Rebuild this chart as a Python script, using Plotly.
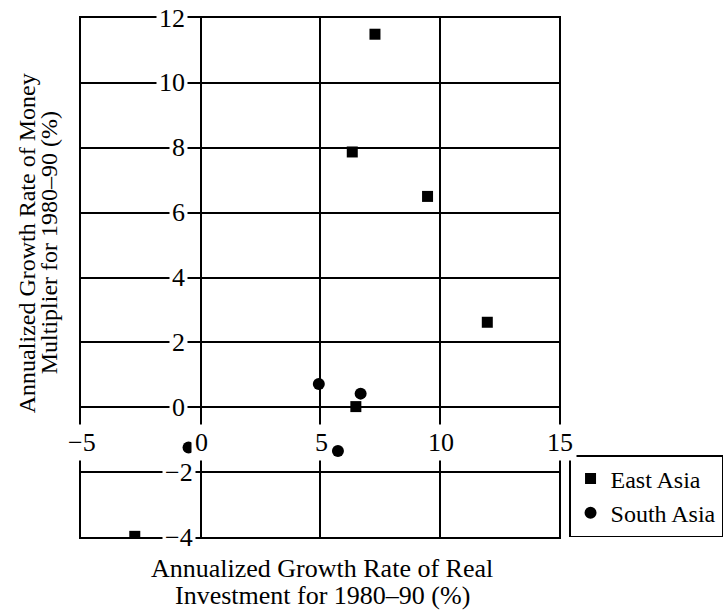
import plotly.graph_objects as go

# Annualized growth rates, 1980-90 (%)
east_x = [7.3, 6.35, 9.5, 12.0, 6.5, -2.75]
east_y = [11.5, 7.87, 6.5, 2.62, 0.02, -3.98]
south_x = [4.95, 6.7, -0.5, 5.75]
south_y = [0.72, 0.42, -1.24, -1.35]

x_ticks = [-5, 0, 5, 10, 15]
y_ticks = [12, 10, 8, 6, 4, 2, 0, -2, -4]

FONT = "Liberation Serif"
BLACK = "black"


def tick_text(v):
    return ("\u2212" + str(-v)) if v < 0 else str(v)


fig = go.Figure()
fig.add_trace(go.Scatter(
    x=east_x, y=east_y, mode="markers", name="East Asia",
    marker=dict(symbol="square", size=11, color=BLACK),
))
fig.add_trace(go.Scatter(
    x=south_x, y=south_y, mode="markers", name="South Asia",
    marker=dict(symbol="circle", size=12, color=BLACK),
))

annotations = []
# y tick labels sit just left of the x = 0 line and break the grid lines
for v in y_ticks:
    annotations.append(dict(
        x=0, y=v, xref="x", yref="y", text=tick_text(v), showarrow=False,
        xanchor="right", yanchor="middle", xshift=-5 if v < 0 else -13,
        bgcolor="white", borderpad=2,
        font=dict(family=FONT, size=26, color=BLACK),
    ))
# x tick labels sit just below the y = 0 line and break the grid lines
for v in x_ticks:
    annotations.append(dict(
        x=v, y=0, xref="x", yref="y", text=tick_text(v), showarrow=False,
        xanchor="center", yanchor="middle", yshift=-35, xshift=1,
        bgcolor="white", borderpad=3,
        font=dict(family=FONT, size=26, color=BLACK),
    ))

# Axis titles, two tightly spaced lines each
for i, line in enumerate(["Annualized Growth Rate of Real",
                          "Investment for 1980\u201390 (%)"]):
    annotations.append(dict(
        x=0.5, y=0, xref="paper", yref="paper", text=line, showarrow=False,
        xanchor="center", yanchor="middle", yshift=-31 - 27 * i, xshift=2,
        font=dict(family=FONT, size=26, color=BLACK),
    ))
for i, line in enumerate(["Annualized Growth Rate of Money",
                          "Multiplier for 1980\u201390 (%)"]):
    annotations.append(dict(
        x=0, y=0.566, xref="paper", yref="paper", text=line, showarrow=False,
        textangle=-90, xanchor="center", yanchor="middle",
        xshift=-54 + 22 * i,
        font=dict(family=FONT, size=24, color=BLACK),
    ))

axis_common = dict(
    showgrid=True, gridcolor=BLACK, gridwidth=1.8,
    zeroline=True, zerolinecolor=BLACK, zerolinewidth=1.8,
    showline=True, linecolor=BLACK, linewidth=1.8, mirror=True,
    showticklabels=False, ticks="", fixedrange=True,
)

fig.update_layout(
    width=728, height=614,
    margin=dict(l=81, r=169, t=18, b=77, autoexpand=False),
    paper_bgcolor="white", plot_bgcolor="white",
    xaxis=dict(range=[-5, 15], tick0=-5, dtick=5, **axis_common),
    yaxis=dict(range=[-4, 12], tick0=-4, dtick=2, **axis_common),
    showlegend=True,
    legend=dict(
        x=1.021, y=0, xanchor="left", yanchor="bottom",
        bgcolor="white", bordercolor=BLACK, borderwidth=1.5,
        font=dict(family=FONT, size=24, color=BLACK),
        itemwidth=30, tracegroupgap=0,
    ),
    annotations=annotations,
    font=dict(family=FONT, color=BLACK),
)

fig.write_html("out.html")
